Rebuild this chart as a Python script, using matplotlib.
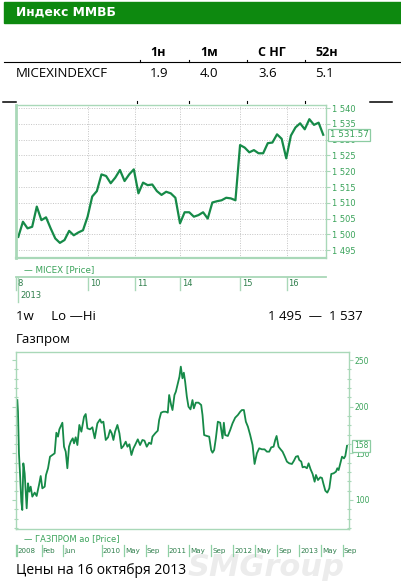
import matplotlib
matplotlib.use('Agg')
import matplotlib.pyplot as plt
import matplotlib.transforms as mtransforms
from matplotlib.patches import Rectangle
from matplotlib.ticker import MultipleLocator, FixedLocator, FuncFormatter

# ---------------- data ----------------
header_title = "Индекс ММВБ"
table_cols = ["1н", "1м", "С НГ", "52н"]
table_row_name = "MICEXINDEXCF"
table_values = ["1.9", "4.0", "3.6", "5.1"]

micex_price = [1499.2, 1504.0, 1501.9, 1502.4, 1508.8, 1504.5, 1505.4, 1501.9, 1498.7, 1497.3,
               1498.2, 1501.1, 1499.7, 1500.6, 1501.3, 1505.6, 1512.0, 1513.7, 1519.0, 1518.5,
               1516.2, 1518.0, 1520.4, 1516.9, 1519.0, 1520.6, 1513.0, 1516.4, 1515.6, 1515.8,
               1513.7, 1512.5, 1513.5, 1513.0, 1511.6, 1503.5, 1507.0, 1507.0, 1505.6, 1506.1,
               1507.0, 1505.0, 1510.1, 1510.5, 1510.8, 1511.6, 1511.4, 1510.8, 1528.3, 1527.5,
               1526.0, 1526.7, 1525.7, 1525.7, 1528.9, 1529.1, 1531.7, 1530.3, 1524.1, 1531.3,
               1533.9, 1535.2, 1533.3, 1536.5, 1534.7, 1535.4, 1531.57]
micex_last = 1531.57
micex_legend = "— MICEX [Price]"
micex_day_labels = ["8", "10", "11", "14", "15", "16"]
micex_day_start = [-0.5, 15.15, 25.25, 35.06, 48.05, 58.1]   # sample index where each day begins
micex_year = "2013"
range_label = "1w     Lo —Hi"
range_lo, range_hi = 1495, 1537
gazprom_title = "Газпром"

# months since Jan 2009
gazprom_t = [-3.43, -3.31, -3.13, -2.94, -2.70, -2.52, -2.33, -2.09, -1.72, -1.48, -1.24, -0.99,
             -0.69, -0.26, 0.10, 0.53, 0.84, 1.14, 1.57, 1.81, 2.18, 2.54, 2.97, 3.39, 3.70, 4.00,
             4.25, 4.80, 5.10, 5.41, 5.71, 6.01, 6.32, 6.69, 6.93, 7.23, 7.54, 7.90, 8.27, 8.76,
             9.06, 9.37, 9.85, 10.28, 10.71, 11.19, 11.68, 11.93, 12.29, 12.72, 13.14, 13.51,
             13.82, 14.12, 14.42, 14.85, 15.22, 15.58, 15.95, 16.37, 16.68, 17.04, 17.41, 17.78,
             18.08, 18.57, 18.99, 19.42, 19.79, 20.21, 20.64, 21.01, 21.25, 21.74, 22.22, 22.47,
             22.83, 23.26, 23.69, 24.05, 24.30, 24.66, 24.91, 25.27, 25.52, 25.88, 26.18, 26.43,
             26.73, 26.98, 27.22, 27.53, 27.83, 28.20, 28.56, 28.81, 29.17, 29.66, 30.15, 30.39,
             30.69, 31.18, 31.61, 31.97, 32.22, 32.52, 32.83, 33.19, 33.62, 34.05, 34.29, 34.53,
             35.02, 35.45, 35.87, 36.36,
             36.85, 37.28, 37.58, 37.95, 38.31, 38.68, 39.10, 39.53, 39.90, 40.32, 40.75, 41.24,
             41.72, 42.15, 42.58, 42.94, 43.37, 43.67, 43.92, 44.28, 44.65, 45.01, 45.38, 45.81,
             46.23, 46.72, 47.09, 47.45, 47.82, 48.06, 48.43, 48.67, 49.04, 49.46, 49.77, 50.13,
             50.50, 50.87, 51.11, 51.48, 51.90, 52.21, 52.45, 52.82, 53.18, 53.55, 53.91, 54.34,
             54.77, 55.01, 55.25, 55.56, 55.87, 56.23, 56.47, 56.78]
gazprom_price = [207.1, 194.6, 150.0, 128.6, 98.2, 89.3, 139.3, 128.6, 91.1, 117.9, 108.9, 114.3,
                 103.6, 107.9, 104.3, 116.1, 125.7, 112.5, 114.3, 126.8, 134.0, 146.4, 148.2, 150.0,
                 172.1, 167.9, 175.7, 182.8, 157.1, 151.8, 134.0, 157.1, 162.5, 166.1, 160.7, 167.2,
                 158.9, 180.4, 173.2, 189.3, 192.1, 176.8, 175.7, 177.9, 166.1, 182.1, 186.4, 182.8,
                 183.9, 164.3, 167.2, 175.0, 171.4, 164.3, 173.2, 180.4, 171.4, 155.4, 157.9, 162.5,
                 157.1, 159.7, 148.2, 155.4,
                 158.9, 165.0, 158.9, 164.3, 163.6, 157.1, 161.4, 160.0, 167.9, 171.4, 174.3, 185.7,
                 193.6, 194.6, 194.6, 193.6, 212.5, 201.8, 196.4, 212.5, 216.0, 225.0, 232.1, 242.9,
                 230.4, 236.4, 226.8, 210.7, 200.0, 197.1, 207.1, 198.2, 204.3, 204.3, 201.8, 191.1,
                 169.6, 168.6, 167.9, 153.6, 150.7, 153.6, 166.1, 183.9, 182.8, 166.1, 182.8, 169.6,
                 168.6, 175.0, 182.1, 188.2,
                 191.1, 194.6, 196.4, 196.4, 183.9, 178.6, 169.6, 158.9, 138.6, 150.0, 155.4, 154.3,
                 154.3, 151.8, 151.8, 156.4, 157.1, 164.3, 168.6, 157.1, 154.3, 151.8, 147.1, 141.1,
                 139.3, 138.6, 142.1, 146.4, 147.1, 142.9, 141.1, 135.0, 135.7, 134.0, 139.3, 132.9,
                 127.9, 119.6, 126.8, 121.4, 124.3, 123.6, 117.9, 110.0, 107.9, 112.5, 127.9, 128.6,
                 130.4, 134.0, 132.1, 139.3, 146.4, 144.6, 147.1, 158.0]
gazprom_last = 158
gazprom_legend = "— ГАЗПРОМ ао [Price]"
gazprom_tick_labels = ["2008", "Feb", "Jun", "2010", "May", "Sep", "2011", "May", "Sep",
                       "2012", "May", "Sep", "2013", "May", "Sep"]
gazprom_tick_t = [-3.67, 1, 5, 12, 16, 20, 24, 28, 32, 36, 40, 44, 48, 52, 56]
footer = "Цены на 16 октября 2013"
watermark = "SMGroup"

# ---------------- style ----------------
W, H = 401, 581
LINE = '#168a48'
FRAME = '#a9d8b8'
TICKC = '#3aa35a'
LABC = '#2f7f4c'
TXT = ['Open Sans', 'DejaVu Sans']

fig = plt.figure(figsize=(W / 100, H / 100), dpi=100)
fig.patch.set_facecolor('white')


def rect(l, t, r, b):
    return [l / W, 1 - b / H, (r - l) / W, (b - t) / H]


ov = fig.add_axes([0, 0, 1, 1], zorder=0)
ov.set_xlim(0, W)
ov.set_ylim(H, 0)
ov.axis('off')

# watermark
ov.text(188, 568, watermark, fontsize=22, fontweight='bold', style='italic',
        color='#ececec', ha='left', va='center', zorder=0, family='DejaVu Sans')

# header bar
ov.add_patch(Rectangle((4, 2), W - 4, 20.7, color='#0d890f', zorder=1))
ov.text(16, 12.5, header_title, color='white', fontsize=8.8, fontweight='bold',
        ha='left', va='center', family='DejaVu Sans')

# table
col_x = [150, 200, 258, 315]
for x, c in zip(col_x, table_cols):
    ov.text(x, 52.5, c, fontsize=9, fontweight='bold', ha='left', va='center', family=TXT)
ov.plot([4, 400], [62, 62], color='black', lw=0.8)
for x in [140, 189, 247, 305]:
    ov.plot([x, x], [60, 62], color='black', lw=0.8)
ov.text(16, 73.3, table_row_name, fontsize=9.5, ha='left', va='center', family=TXT)
for x, v in zip(col_x, table_values):
    ov.text(x, 73.3, v, fontsize=9.5, ha='left', va='center', family=TXT)
ov.plot([3, 16], [101.5, 101.5], color='black', lw=1.1)
ov.plot([370, 392], [101.5, 101.5], color='black', lw=1.1)
for x in [137, 189, 247, 305]:
    ov.plot([x, x], [100.5, 102.5], color='black', lw=0.8)

# ---------------- MICEX chart ----------------
ax1 = fig.add_axes(rect(16, 105, 326, 257.7), zorder=2)
ax1.plot(range(len(micex_price)), micex_price, color=LINE, lw=1.6, solid_joinstyle='round')
ax1.set_xlim(-0.5, 66.6)
ax1.set_ylim(1492.6, 1541)
ax1.yaxis.set_major_locator(MultipleLocator(5))
ax1.yaxis.set_major_formatter(FuncFormatter(lambda v, p: f"{v:,.0f}".replace(',', ' ')))
ax1.xaxis.set_major_locator(FixedLocator(micex_day_start[1:]))
ax1.grid(True, color='#c4c4c4', ls=(0, (1, 1.5)), lw=0.7)
ax1.yaxis.tick_right()
ax1.tick_params(axis='y', direction='out', length=3, width=0.8, color=FRAME,
                labelcolor=TICKC, labelsize=6, pad=1)
ax1.tick_params(axis='x', length=0, labelbottom=False)
for s in ax1.spines.values():
    s.set_color(FRAME)
    s.set_linewidth(1.0)
ax1.spines['left'].set_linewidth(2.0)
ax1.spines['bottom'].set_linewidth(1.6)
bt1 = mtransforms.blended_transform_factory(ax1.transAxes, ax1.transData)
ax1.text(1.012, micex_last, f"{micex_last:,.2f}".replace(',', ' '), transform=bt1,
         ha='left', va='center', fontsize=6.3, color=TICKC, clip_on=False,
         bbox=dict(boxstyle='square,pad=0.18', fc='white', ec='#8ccca2', lw=0.9))

ov.text(24, 270, micex_legend, fontsize=6.3, color=TICKC, ha='left', va='center',
        family='DejaVu Sans')
tb1 = mtransforms.blended_transform_factory(ax1.transData, ov.transData)
ov.plot([16, 326], [276.7, 276.7], color=FRAME, lw=1.3)
for s, lab in zip(micex_day_start, micex_day_labels):
    ov.plot([s, s], [276.7, 290], color=FRAME, lw=1.0, transform=tb1)
    ov.annotate(lab, xy=(s, 284), xycoords=tb1, xytext=(1.3, 0), textcoords='offset points',
                fontsize=6, color=LABC, ha='left', va='center')
ov.plot([17.5, 17.5], [276.7, 301.7], color=FRAME, lw=1.0)
ov.text(20, 296, micex_year, fontsize=6, color=LABC, ha='left', va='center')

ov.text(16, 316, range_label, fontsize=9.5, ha='left', va='center', family=TXT)
ov.text(362.5, 316, f"{range_lo:,}".replace(',', ' ') + "  —  " + f"{range_hi:,}".replace(',', ' '),
        fontsize=9.5, ha='right', va='center', family=TXT)
ov.text(16, 339, gazprom_title, fontsize=9.5, ha='left', va='center', family=TXT)

# ---------------- Gazprom chart ----------------
ax2 = fig.add_axes(rect(16, 351.7, 349.3, 529.3), zorder=2)
ax2.plot(gazprom_t, gazprom_price, color=LINE, lw=1.3)
ax2.set_xlim(-3.67, 57.2)
ax2.set_ylim(68.6, 258.9)
ax2.yaxis.set_major_locator(MultipleLocator(50))
ax2.yaxis.set_minor_locator(MultipleLocator(10))
ax2.tick_params(axis='y', which='both', left=True, right=True, labelleft=False,
                labelright=True, color=FRAME, width=0.8)
ax2.tick_params(axis='y', which='major', direction='out', length=3, labelcolor=TICKC,
                labelsize=5.5, pad=1)
ax2.tick_params(axis='y', which='minor', direction='inout', length=2.5)
ax2.set_xticks([])
for s in ax2.spines.values():
    s.set_color(FRAME)
    s.set_linewidth(1.0)
bt2 = mtransforms.blended_transform_factory(ax2.transAxes, ax2.transData)
ax2.text(1.014, gazprom_last, f"{gazprom_last}", transform=bt2, ha='left', va='center',
         fontsize=5.5, color=TICKC, clip_on=False,
         bbox=dict(boxstyle='square,pad=0.2', fc='white', ec='#8ccca2', lw=0.9))

ov.text(24, 539, gazprom_legend, fontsize=6, color=TICKC, ha='left', va='center',
        family='DejaVu Sans')
tb2 = mtransforms.blended_transform_factory(ax2.transData, ov.transData)
for s, lab in zip(gazprom_tick_t, gazprom_tick_labels):
    ov.plot([s, s], [545, 556], color='#8fd0a4', lw=0.9, transform=tb2)
    ov.annotate(lab, xy=(s, 550.7), xycoords=tb2, xytext=(0.8, 0), textcoords='offset points',
                fontsize=5.1, color=LABC, ha='left', va='center')
ov.plot([17.3, 17.3], [545, 556], color='#8fd0a4', lw=0.9)

ov.text(16, 570, footer, fontsize=10, ha='left', va='center', family=TXT)

fig.savefig('out.png', dpi=100, facecolor='white')
